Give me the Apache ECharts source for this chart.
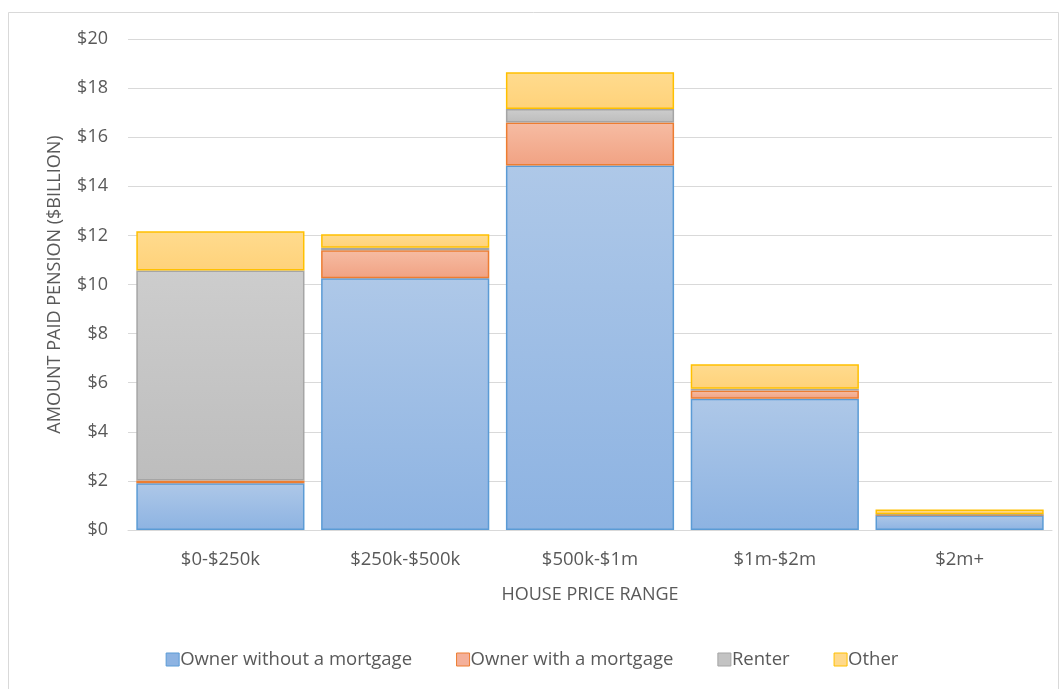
<!DOCTYPE html>
<html><head><meta charset="utf-8">
<script src="https://cdn.jsdelivr.net/npm/echarts@6/dist/echarts.min.js"></script>
<style>html,body{margin:0;padding:0;background:#fff}#c{width:1064px;height:689px}</style>
</head><body><div id="c"></div>
<script>
const categories = ["$0-$250k", "$250k-$500k", "$500k-$1m", "$1m-$2m", "$2m+"];
const ownerNoMortgage = [1.9, 10.25, 14.85, 5.35, 0.6];
const ownerMortgage = [0.12, 1.15, 1.75, 0.33, 0.02];
const renter = [8.55, 0.1, 0.55, 0.07, 0.02];
const other = [1.6, 0.55, 1.5, 1.0, 0.2];
const yTicks = [0, 2, 4, 6, 8, 10, 12, 14, 16, 18, 20];

const FONT = "'Open Sans', 'Liberation Sans', sans-serif";
function grad(top, bottom) {
  return new echarts.graphic.LinearGradient(0, 0, 0, 1, [{offset: 0, color: top}, {offset: 1, color: bottom}]);
}
const styles = [
  {name: "Owner without a mortgage", data: ownerNoMortgage, fill: grad('#aec8e8', '#8db3e2'), border: '#5b9bd5', legend: '#8db3e2'},
  {name: "Owner with a mortgage", data: ownerMortgage, fill: grad('#f6bca3', '#f1a283'), border: '#ed7d31', legend: '#f4b09a'},
  {name: "Renter", data: renter, fill: grad('#cdcdcd', '#bdbdbd'), border: '#a5a5a5', legend: '#c3c3c3'},
  {name: "Other", data: other, fill: grad('#ffdb8e', '#ffd27a'), border: '#ffc000', legend: '#ffd98a'}
];
const chart = echarts.init(document.getElementById('c'), null, {renderer: 'canvas'});
chart.setOption({
  animation: false,
  backgroundColor: '#fff',
  graphic: [{type: 'rect', shape: {x: 8.5, y: 12.5, width: 1050, height: 680}, style: {fill: 'none', stroke: '#d9d9d9', lineWidth: 1}}],
  grid: {left: 128, right: 12, top: 39, bottom: 159, containLabel: false},
  legend: {
    bottom: 15, left: 'center', icon: 'rect', itemWidth: 13, itemHeight: 13, itemGap: 44,
    textStyle: {fontFamily: FONT, fontSize: 18.5, color: '#595959', padding: [0, 0, 0, -4]},
    data: styles.map(s => ({name: s.name, itemStyle: {color: s.legend, borderColor: s.border, borderWidth: 1}}))
  },
  xAxis: {
    type: 'category', data: categories,
    name: 'HOUSE PRICE RANGE', nameLocation: 'middle', nameGap: 56,
    nameTextStyle: {fontFamily: FONT, fontSize: 18, color: '#595959'},
    axisLine: {show: true, lineStyle: {color: '#d9d9d9', width: 1}},
    axisTick: {show: false},
    axisLabel: {fontFamily: FONT, fontSize: 18.5, color: '#595959', margin: 20}
  },
  yAxis: {
    type: 'value', min: 0, max: 20, interval: 2,
    name: 'AMOUNT PAID PENSION ($BILLION)', nameLocation: 'middle', nameGap: 64, nameRotate: 90,
    nameTextStyle: {fontFamily: FONT, fontSize: 18, color: '#595959'},
    axisLine: {show: false}, axisTick: {show: false},
    splitLine: {lineStyle: {color: '#d9d9d9', width: 1}},
    axisLabel: {fontFamily: FONT, fontSize: 18, color: '#595959', margin: 20,
      formatter: v => yTicks.includes(v) ? '$' + v : ''}
  },
  series: styles.map(s => ({
    name: s.name, type: 'bar', stack: 'total', data: s.data,
    barCategoryGap: '9%',
    itemStyle: {color: s.fill, borderColor: s.border, borderWidth: 1.5}
  }))
});
</script></body></html>
